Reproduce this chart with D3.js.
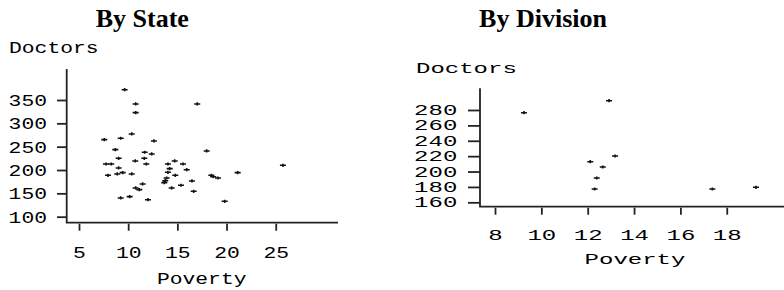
<!DOCTYPE html>
<html><head><meta charset="utf-8">
<script src="https://cdn.jsdelivr.net/npm/d3@7"></script>
<style>body{margin:0;background:#fff}svg{display:block}</style>
</head><body><svg id="c" width="784" height="290"></svg>
<script>
// ---- data ----
const statePoverty = [9.64,10.76,17.02,10.76,10.36,7.57,9.24,12.62,8.69,17.98,11.68,12.39,9.03,11.64,10.72,14.73,7.74,8.28,11.84,14.04,15.57,14.22,9.03,15.95,25.73,21.13,7.95,8.89,9.44,10.36,14.04,14.79,18.45,18.65,19.13,13.91,13.77,13.67,16.48,11.47,15.37,14.42,10.76,11.13,16.66,9.24,10.15,12.01,19.81];
const stateDoctors = [372,341.5,341.5,322.9,277.2,265,268,262.2,243.6,240.8,238,234.4,225.1,225.1,219.4,219.4,212.9,212.9,212.9,212.9,212.9,202.9,204.4,200.7,210.1,194.3,188.7,191.5,194.3,191.5,195.1,188.7,188.7,185.7,182.9,182.9,177.1,172.9,176.5,170.1,167.3,161.5,161.5,157.9,154.4,140.1,142.9,136.4,133];
const stateXTicks = [5,10,15,20,25];
const stateYTicks = [100,150,200,250,300,350];

const divPoverty = [9.25,12.92,12.11,13.18,12.65,12.39,12.30,17.38,19.26];
const divDoctors = [276.5,292.1,212.8,220.2,205.9,191.6,177.3,177.3,179.5];
const divXTicks = [8,10,12,14,16,18];
const divYTicks = [160,180,200,220,240,260,280];

const titles = ["By State","By Division"];
const xLabel = "Poverty", yLabel = "Doctors";

const svg = d3.select("#c");
const MONO = "'Liberation Mono','Courier New',monospace";

function panel(cfg){
  const g = svg.append("g");
  const x = d3.scaleLinear().domain(cfg.xDom).range([cfg.left, cfg.right]);
  const y = d3.scaleLinear().domain(cfg.yDom).range([cfg.bottom, cfg.top]);

  // title
  g.append("text").attr("x", cfg.titleX).attr("y", 26.7)
    .attr("text-anchor","middle")
    .attr("font-family","'Liberation Serif','Times New Roman',serif")
    .attr("font-weight","bold").attr("font-size",26).attr("fill","#000")
    .text(cfg.title);

  const styleText = sel => sel
    .attr("font-family", MONO).attr("font-size", cfg.fs).attr("fill","#000")
    .attr("textLength", function(){ return this.textContent.length*cfg.pitch; })
    .attr("lengthAdjust","spacingAndGlyphs");

  // x axis
  const gx = g.append("g").attr("transform",`translate(0,${cfg.bottom+1})`)
    .call(d3.axisBottom(x).tickValues(cfg.xTicks).tickSize(cfg.xTick).tickPadding(cfg.xPad).tickSizeOuter(0).tickFormat(d3.format("d")));
  gx.select(".domain").remove();
  gx.selectAll(".tick line").attr("stroke","#222").attr("stroke-width",1.8);
  gx.selectAll(".tick text").call(styleText);

  // y axis
  const gy = g.append("g").attr("transform",`translate(${cfg.left},0)`)
    .call(d3.axisLeft(y).tickValues(cfg.yTicks).tickSize(cfg.yTick).tickPadding(cfg.yPad).tickSizeOuter(0).tickFormat(d3.format("d")));
  gy.select(".domain").remove();
  gy.selectAll(".tick line").attr("stroke","#222").attr("stroke-width",1.8);
  gy.selectAll(".tick text").call(styleText);

  // axis lines
  g.append("path")
    .attr("d", `M${x(cfg.xDom[0])},${y(cfg.yDom[1])}V${y(cfg.yDom[0])}H${x(cfg.xDom[1])}`)
    .attr("fill","none").attr("stroke","#222").attr("stroke-width",1.8);

  // axis titles
  g.append("text").attr("x", cfg.yLabX).attr("y", cfg.yLabY).text(yLabel).call(styleText);
  g.append("text").attr("x", cfg.xLabX).attr("y", cfg.xLabY).attr("text-anchor","middle").text(xLabel).call(styleText);

  // points
  g.append("g").selectAll("path").data(cfg.px.map((v,i)=>[v,cfg.py[i]])).join("path")
    .attr("transform", d=>`translate(${x(d[0])},${y(d[1])})`)
    .attr("d","M-3,0H3M0,-1.6V1.6")
    .attr("stroke","#111").attr("stroke-width",1.6).attr("fill","none");
}

panel({
  title: titles[0], titleX: 142.3,
  xDom:[3.75,31.33], yDom:[87.1,416.4],
  left:66.7, right:338, top:69, bottom:222.7,
  xTicks: stateXTicks, yTicks: stateYTicks,
  xTick:7, xPad:15.5, yTick:9.7, yPad:10,
  fs:17, pitch:12.8,
  yLabX:9, yLabY:53.3, xLabX:201.7, xLabY:284,
  px: statePoverty, py: stateDoctors
});
panel({
  title: titles[1], titleX: 543,
  xDom:[7.353,20.47], yDom:[154.3,308.2],
  left:480, right:784, top:88.3, bottom:206.7,
  xTicks: divXTicks, yTicks: divYTicks,
  xTick:7, xPad:15.4, yTick:12, yPad:10.7,
  fs:14, pitch:14.4,
  yLabX:416, yLabY:73.3, xLabX:635, xLabY:263.5,
  px: divPoverty, py: divDoctors
});
</script></body></html>
